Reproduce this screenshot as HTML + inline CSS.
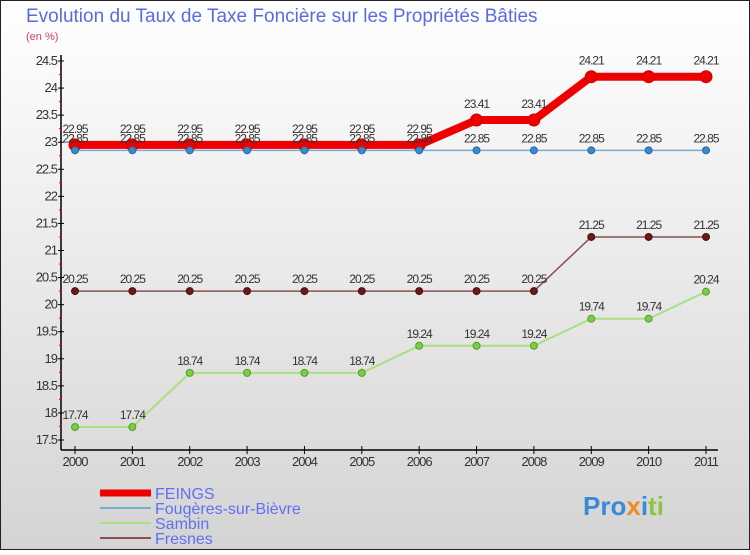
<!DOCTYPE html>
<html><head><meta charset="utf-8"><style>
body{margin:0;width:750px;height:550px;overflow:hidden;font-family:"Liberation Sans","DejaVu Sans",sans-serif}
</style></head><body>
<svg width="750" height="550" xmlns="http://www.w3.org/2000/svg">
<defs><linearGradient id="bg" x1="0" y1="0" x2="0" y2="1"><stop offset="0" stop-color="#ffffff"/><stop offset="1" stop-color="#d4d4d4"/></linearGradient></defs>
<rect x="0.5" y="0.5" width="749" height="549" fill="url(#bg)" stroke="#222"/>
<text x="26" y="22" font-size="19" fill="#5a6be0">Evolution du Taux de Taxe Foncière sur les Propriétés Bâties</text>
<text x="26" y="40" font-size="11" fill="#d04060">(en %)</text>
<g id="axes"></g>
<g id="series"></g>
<g id="legend"></g>
<text x="583" y="515" font-size="26" font-weight="bold"><tspan fill="#3a8ad8">Pro</tspan><tspan fill="#f08a20">x</tspan><tspan fill="#3a8ad8">i</tspan><tspan fill="#8cc63f">ti</tspan></text>
</svg>
<script>
const years=[2000,2001,2002,2003,2004,2005,2006,2007,2008,2009,2010,2011];
const feings=[22.95,22.95,22.95,22.95,22.95,22.95,22.95,23.41,23.41,24.21,24.21,24.21];
const fougeres=[22.85,22.85,22.85,22.85,22.85,22.85,22.85,22.85,22.85,22.85,22.85,22.85];
const sambin=[17.74,17.74,18.74,18.74,18.74,18.74,19.24,19.24,19.24,19.74,19.74,20.24];
const fresnes=[20.25,20.25,20.25,20.25,20.25,20.25,20.25,20.25,20.25,21.25,21.25,21.25];
const yTicks=[17.5,18,18.5,19,19.5,20,20.5,21,21.5,22,22.5,23,23.5,24,24.5];
const NS="http://www.w3.org/2000/svg";
const X=i=>75+i*(706-75)/11;
const Y=v=>440-(v-17.5)*(440-61)/7;
function mk(tag,attrs,parent){const e=document.createElementNS(NS,tag);for(const k in attrs)e.setAttribute(k,attrs[k]);parent.appendChild(e);return e;}
const ax=document.getElementById('axes');
let yl=mk('line',{x1:61,y1:55,x2:61,y2:450,stroke:'#000','stroke-width':1.5},ax);


let xl=mk('line',{x1:61,y1:450,x2:718,y2:450,stroke:'#000','stroke-width':1.5},ax);


yTicks.forEach(t=>{
 const y=Y(t);
 mk('line',{x1:58,y1:y,x2:64,y2:y,stroke:'#000'},ax);
 if(t<24.5)mk('line',{x1:59,y1:Y(t+0.25),x2:62,y2:Y(t+0.25),stroke:'#e00'},ax);
 const tx=mk('text',{x:57,y:y+4,'font-size':13,fill:'#333','text-anchor':'end','letter-spacing':'-1'},ax);
 tx.textContent=String(t);
 
 
});
years.forEach((yr,i)=>{
 mk('line',{x1:X(i),y1:446,x2:X(i),y2:454,stroke:'#000'},ax);
 const tx=mk('text',{x:X(i),y:466,'font-size':13,fill:'#333','text-anchor':'middle','letter-spacing':'-1'},ax);
 tx.textContent=yr;
 
 
});
const sg=document.getElementById('series');
function series(name,vals,color,w,r,fill,stroke,dy){
 const g=mk('g',{},sg);
 
 
 const ln=mk('polyline',{points:vals.map((v,i)=>X(i)+','+Y(v)).join(' '),fill:'none',stroke:color,'stroke-width':w,'stroke-linejoin':'round'},g);
 
 
 vals.forEach((v,i)=>{
  const c=mk('circle',{cx:X(i),cy:Y(v),r:r,fill:fill,stroke:stroke,'stroke-width':1},g);
  
  
  const t=mk('text',{x:X(i),y:Y(v)+dy,'font-size':12,fill:'#333','text-anchor':'middle','letter-spacing':'-1'},g);
  t.textContent=v.toFixed(2);
  
  
 });
}
series('fresnes',fresnes,'#8a5050',1.5,3.5,'#6a1a1a','#4a1010',-8);
series('sambin',sambin,'#a8e080',2,3.5,'#78d040','#5a9a30',-8);
series('feings',feings,'#ee0000',8,6,'#ee0000','#cc0000',-12);
series('fougeres',fougeres,'#7aaad0',1.5,3.5,'#3a8ad0','#2a6aa0',-8);
const lg=document.getElementById('legend');
const items=[['FEINGS','#ee0000',7],['Fougères-sur-Bièvre','#7aaad0',2],['Sambin','#a8e080',2],['Fresnes','#8a5050',2]];
items.forEach((it,k)=>{
 const y=493+k*15;
 const g=mk('g',{},lg);
 
 
 mk('line',{x1:100,y1:y,x2:151,y2:y,stroke:it[1],'stroke-width':it[2]},g);
 const t=mk('text',{x:155,y:y+6,'font-size':16,fill:'#6070f0'},g);
 t.textContent=it[0];
});
</script>
</body></html>
